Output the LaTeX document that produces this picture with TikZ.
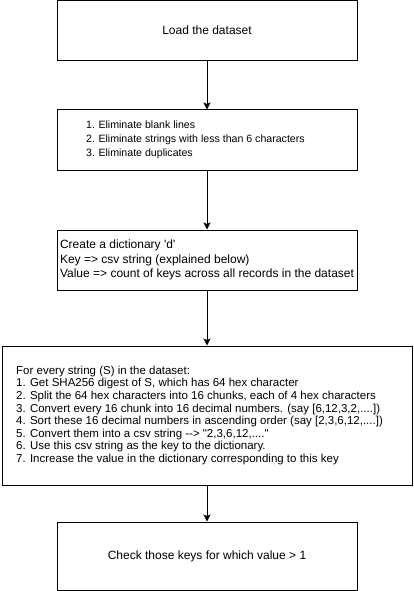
\documentclass[tikz,border=0pt]{standalone}
\usepackage{fontspec}
\setmainfont{Liberation Sans}
\usetikzlibrary{arrows.meta}
\tikzset{
  box/.style={draw=black, line width=1pt, fill=white, minimum width=300pt, minimum height=60pt, inner sep=0pt, align=left, font=\fontsize{12}{14.4}\selectfont},
  txt/.style={inner sep=0pt, align=left, anchor=west},
  arr/.style={draw=black, line width=1pt, -{Stealth[length=7pt,width=7pt,inset=1.5pt]}}
}
\begin{document}
\begin{tikzpicture}[x=1pt,y=-1pt]
\useasboundingbox (0,0) rectangle (414,591);
\fill[white] (0,0) rectangle (414,591);
\node[box] (b1) at (207,30.5) {Load the dataset};
\node[box] (b2) at (207,140) {};
\node[txt, font=\fontsize{10.6}{14}\selectfont] (t2) at (86,140) {\begin{tabular}{@{}r@{\hspace{3.5pt}}l@{}}
1.& Eliminate blank lines\\
2.& Eliminate strings with less than 6 characters\\
3.& Eliminate duplicates
\end{tabular}};
\node[box] (b3) at (207,260) {Create a dictionary \textquotesingle d\textquotesingle\\Key =\textgreater{} csv string (explained below)\\Value =\textgreater{} count of keys across all records in the dataset};
\node[box, minimum width=410pt, minimum height=139pt] (b4) at (207,415.5) {};
\node[txt, font=\fontsize{11.5}{12.6}\selectfont] (t4) at (16,415.5) {For every string (S) in the dataset:\\
1. Get SHA256 digest of S, which has 64 hex character\\
2. Split the 64 hex characters into 16 chunks, each of 4 hex characters\\
3. Convert every 16 chunk into 16 decimal numbers. (say [6,12,3,2,....])\\
4. Sort these 16 decimal numbers in ascending order (say [2,3,6,12,....])\\
5. Convert them into a csv string -{}-\textgreater{} \textquotedbl 2,3,6,12,....\textquotedbl\\
6. Use this csv string as the key to the dictionary.\\
7. Increase the value in the dictionary corresponding to this key};
\node[box, minimum height=68pt] (b5) at (207,556) {Check those keys for which value \textgreater{} 1};
\draw[arr] (b1) -- (b2);
\draw[arr] (b2) -- (b3);
\draw[arr] (b3) -- (b4);
\draw[arr] (b4) -- (b5);
\end{tikzpicture}
\end{document}
